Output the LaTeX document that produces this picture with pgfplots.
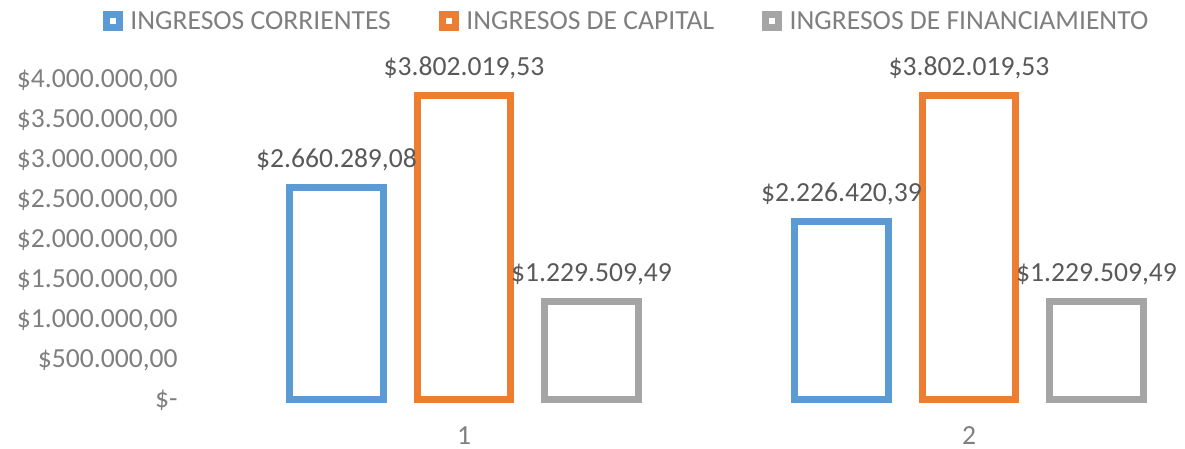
\documentclass[border=0pt]{standalone}
\usepackage{pgfplots}
\pgfplotsset{compat=1.18}
\usepackage{fontspec}
\setmainfont{Carlito}
\definecolor{cblue}{HTML}{5B9BD5}
\definecolor{corange}{HTML}{ED7D31}
\definecolor{cgray}{HTML}{A5A5A5}
\definecolor{ticktext}{HTML}{7F7F7F}
\definecolor{labeltext}{HTML}{595959}
\newcommand{\chartfont}{\fontsize{13.8}{16.5}\selectfont}
\pgfplotsset{
  mylegend/.style={legend image code/.code={\draw[##1,/tikz/line width=3.5pt,/tikz/fill=white] (0pt,-3.25pt) rectangle (6.5pt,3.25pt);}},
  barstyle/.style={draw=#1, fill=white, line width=3.5pt, bar width=0.1861, mylegend,
    nodes near coords={\$\pgfplotspointmeta},
    every node near coord/.append style={anchor=base, yshift=10pt, inner sep=0pt, font=\chartfont, text=labeltext}},
}
\begin{document}
\begin{tikzpicture}[x=1pt,y=1pt]
\useasboundingbox (0,0) rectangle (592.5,224.5);
\begin{axis}[
  at={(105.75pt,24.5pt)}, anchor=south west,
  scale only axis, width=505pt, height=160pt,
  xmin=0.5, xmax=2.5, ymin=0, ymax=4000000,
  ybar, clip=false,
  axis line style={draw=none}, major tick length=0pt, tick style={draw=none},
  xtick={1,2}, xticklabels={1,2},
  ytick={0,500000,1000000,1500000,2000000,2500000,3000000,3500000,4000000},
  yticklabels={{\$-\hspace{5.5pt}},{\$500.000,00},{\$1.000.000,00},{\$1.500.000,00},{\$2.000.000,00},{\$2.500.000,00},{\$3.000.000,00},{\$3.500.000,00},{\$4.000.000,00}},
  scaled y ticks=false,
  yticklabel style={anchor=east, inner sep=0pt, xshift=-16.75pt, font=\chartfont, text=ticktext},
  xticklabel style={anchor=north, inner sep=0pt, yshift=-13.3pt, font=\chartfont, text=ticktext},
  point meta=explicit symbolic,
  legend style={at={(-0.10792,1.1844)}, anchor=west, draw=none, fill=none, inner sep=0pt,
    font=\chartfont, text=ticktext,
    /tikz/every even column/.append style={column sep=24pt},
    /tikz/every odd column/.append style={column sep=3.75pt},
    nodes={inner sep=0pt, text depth=0pt}, cells={anchor=west}},
  legend columns=3,
]
\addplot[barstyle=cblue, bar shift=-0.2525] table[x=x,y=y,meta=l] {
x y l
1 2660289.08 2.660.289,08
2 2226420.39 2.226.420,39
};
\addplot[barstyle=corange, bar shift=0] table[x=x,y=y,meta=l] {
x y l
1 3802019.53 3.802.019,53
2 3802019.53 3.802.019,53
};
\addplot[barstyle=cgray, bar shift=0.2525] table[x=x,y=y,meta=l] {
x y l
1 1229509.49 1.229.509,49
2 1229509.49 1.229.509,49
};
\legend{INGRESOS CORRIENTES, INGRESOS DE CAPITAL, INGRESOS DE FINANCIAMIENTO}
\end{axis}
\end{tikzpicture}
\end{document}
